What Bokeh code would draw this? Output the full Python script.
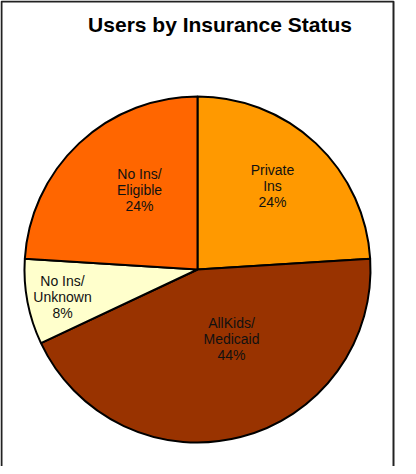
import math
from bokeh.plotting import figure
from bokeh.models import ColumnDataSource, Range1d
from bokeh.core.properties import value
from bokeh.embed import file_html
from bokeh.resources import INLINE

# ---- data ----
title_text = "Users by Insurance Status"
categories = ["Private\nIns", "AllKids/\nMedicaid", "No Ins/\nUnknown", "No Ins/\nEligible"]
shares = [24, 44, 8, 24]
colors = ["#FF9900", "#993300", "#FFFFCC", "#FF6600"]

# ---- layout (pixel units; 1 data unit = 1 px) ----
W, H = 400, 466
cx, cy, R = 197, 197, 173
# label anchor offsets from the pie centre (layout only)
label_offsets = [(75, 84), (34, -69), (-135, -27), (-58, 80)]
FONT = "Liberation Sans"

p = figure(width=W, height=H, output_backend="svg", toolbar_location=None,
           x_range=Range1d(0, W), y_range=Range1d(0, H), min_border=0)
p.axis.visible = False
p.grid.visible = False
p.outline_line_color = None
p.background_fill_color = "white"
p.border_fill_color = "white"

total = sum(shares)
starts, ends, cum = [], [], 0.0
for s in shares:
    starts.append(math.pi / 2 - 2 * math.pi * cum / total)
    cum += s
    ends.append(math.pi / 2 - 2 * math.pi * cum / total)

src = ColumnDataSource(dict(x=[cx] * len(shares), y=[cy] * len(shares),
                            start=starts, end=ends, color=colors))
p.wedge(x="x", y="y", radius=R, start_angle="start", end_angle="end",
        direction="clock", fill_color="color", line_color="black",
        line_width=2, source=src)

labels = [f"{c}\n{s}%" for c, s in zip(categories, shares)]
lsrc = ColumnDataSource(dict(x=[cx + dx for dx, dy in label_offsets],
                             y=[cy + dy for dx, dy in label_offsets],
                             text=labels))
p.text(x="x", y="y", text="text", source=lsrc, text_align="center",
       text_baseline="middle", text_font=value(FONT), text_font_size="14px",
       text_color="#111111", text_line_height=1.0)

# title
p.text(x=[219.5], y=[H - 24], text=[title_text], text_align="center",
       text_baseline="middle", text_font=value(FONT), text_font_size="21px",
       text_font_style="bold", text_color="black")

# chart-area border (left, top, right)
p.line(x=[1, 1, 393, 393], y=[0, 465, 465, 0], line_color="#222222", line_width=2)

open("out.html", "w").write(file_html(p, INLINE))
